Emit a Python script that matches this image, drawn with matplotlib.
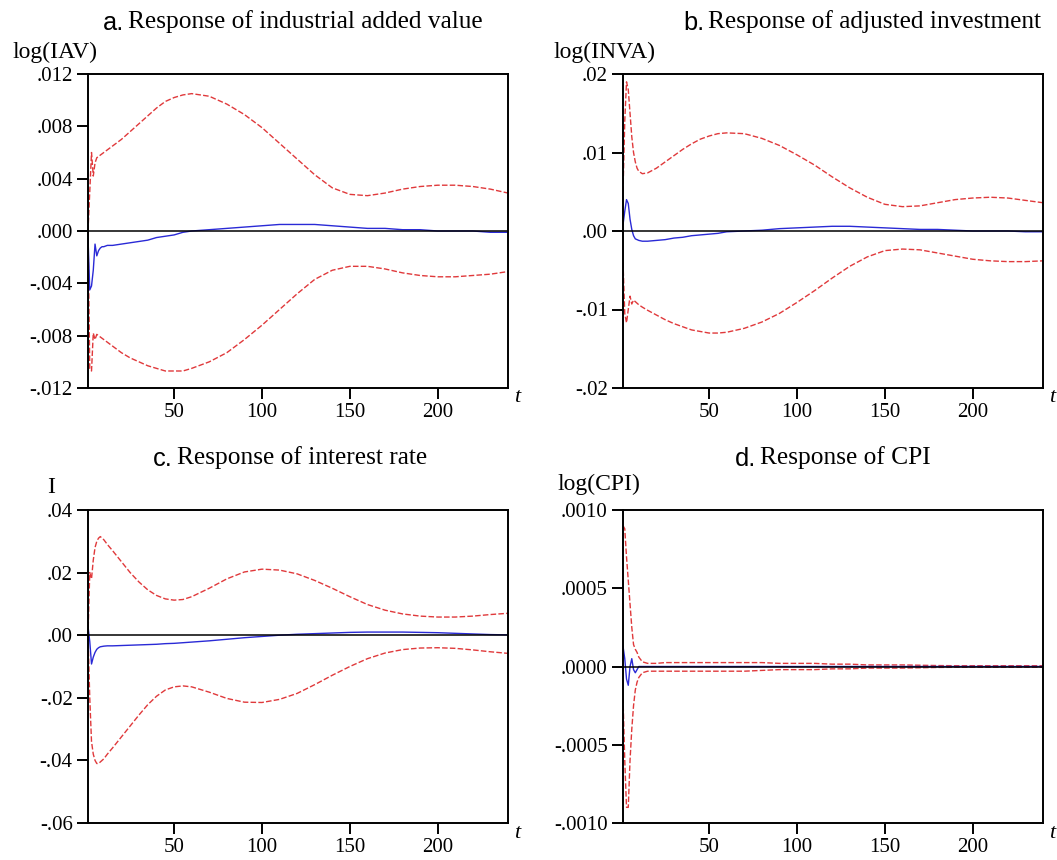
import numpy as np
import matplotlib.pyplot as plt

plt.rcParams['font.family'] = ['Liberation Serif', 'DejaVu Serif']

t = [1, 2, 3, 4, 5, 6, 7, 8, 9, 10, 12, 15, 20, 25, 30, 35, 40, 45, 50, 55, 60,
     70, 80, 90, 100, 110, 120, 130, 140, 150, 160, 170, 180, 190, 200, 210, 220, 230, 240]

# a. industrial added value
iav_up = [0.0, 0.0030, 0.0060, 0.0042, 0.0052, 0.0056, 0.0057, 0.0058, 0.0059, 0.0060, 0.0062,
          0.0065, 0.0070, 0.0076, 0.0082, 0.0088, 0.0094, 0.0099, 0.0102, 0.0104, 0.0105,
          0.0103, 0.0097, 0.0089, 0.0079, 0.0067, 0.0055, 0.0043, 0.0033, 0.0028, 0.0027,
          0.0029, 0.0032, 0.0034, 0.0035, 0.0035, 0.0034, 0.0032, 0.0029]
iav = [-0.0005, -0.0045, -0.0042, -0.0030, -0.0010, -0.0019, -0.0015, -0.0013, -0.0012, -0.0012,
       -0.0011, -0.0011, -0.0010, -0.0009, -0.0008, -0.0007, -0.0005, -0.0004, -0.0003, -0.0001,
       0.0000, 0.0001, 0.0002, 0.0003, 0.0004, 0.0005, 0.0005, 0.0005, 0.0004, 0.0003, 0.0002,
       0.0002, 0.0001, 0.0001, 0.0000, 0.0000, 0.0000, -0.0001, -0.0001]
iav_lo = [0.0, -0.0105, -0.0107, -0.0078, -0.0083, -0.0079, -0.0080, -0.0081, -0.0082, -0.0083,
          -0.0085, -0.0088, -0.0093, -0.0097, -0.0100, -0.0103, -0.0105, -0.0107, -0.0107,
          -0.0107, -0.0105, -0.0100, -0.0093, -0.0083, -0.0072, -0.0060, -0.0048, -0.0037,
          -0.0030, -0.0027, -0.0027, -0.0029, -0.0032, -0.0034, -0.0035, -0.0035, -0.0034,
          -0.0033, -0.0031]

# b. adjusted investment
inva_up = [0.005, 0.014, 0.019, 0.018, 0.015, 0.012, 0.0100, 0.0088, 0.0080, 0.0076, 0.0073,
           0.0074, 0.0080, 0.0088, 0.0096, 0.0104, 0.0111, 0.0117, 0.0121, 0.0124, 0.0125,
           0.0124, 0.0118, 0.0109, 0.0097, 0.0084, 0.0069, 0.0055, 0.0043, 0.0034, 0.0031,
           0.0032, 0.0036, 0.0040, 0.0042, 0.0043, 0.0042, 0.0039, 0.0036]
inva = [0.0008, 0.0025, 0.0040, 0.0035, 0.0015, 0.0002, -0.0006, -0.0010, -0.0011, -0.0012,
        -0.0013, -0.0013, -0.0012, -0.0011, -0.0009, -0.0008, -0.0006, -0.0005, -0.0004, -0.0003,
        -0.0001, 0.0000, 0.0001, 0.0003, 0.0004, 0.0005, 0.0006, 0.0006, 0.0005, 0.0004, 0.0003,
        0.0002, 0.0002, 0.0001, 0.0000, 0.0000, 0.0000, -0.0001, -0.0001]
inva_lo = [-0.004, -0.0105, -0.0117, -0.0100, -0.0083, -0.0093, -0.0088, -0.0090, -0.0092,
           -0.0094, -0.0097, -0.0101, -0.0107, -0.0113, -0.0118, -0.0122, -0.0126, -0.0128,
           -0.0130, -0.0130, -0.0129, -0.0124, -0.0116, -0.0105, -0.0091, -0.0076, -0.0060,
           -0.0045, -0.0033, -0.0025, -0.0023, -0.0024, -0.0028, -0.0032, -0.0036, -0.0038,
           -0.0039, -0.0039, -0.0038]

# c. interest rate
i_up = [0.0, 0.020, 0.018, 0.024, 0.028, 0.030, 0.031, 0.0315, 0.031, 0.0305, 0.029, 0.027,
        0.0235, 0.020, 0.017, 0.0145, 0.0127, 0.0116, 0.0112, 0.0114, 0.0123, 0.0150, 0.0180,
        0.0202, 0.0211, 0.0208, 0.0196, 0.0175, 0.0150, 0.0123, 0.0098, 0.0080, 0.0068,
        0.0061, 0.0058, 0.0058, 0.0061, 0.0066, 0.0070]
i_mid = [0.0028, -0.0020, -0.0092, -0.0070, -0.0055, -0.0045, -0.0040, -0.0037, -0.0036,
         -0.0035, -0.0034, -0.0034, -0.0033, -0.0032, -0.0031, -0.0030, -0.0029, -0.0027,
         -0.0026, -0.0024, -0.0022, -0.0018, -0.0013, -0.0008, -0.0004, 0.0000, 0.0003,
         0.0005, 0.0007, 0.0009, 0.0010, 0.0010, 0.0010, 0.0009, 0.0008, 0.0006, 0.0004,
         0.0002, 0.0001]
i_lo = [0.0, -0.020, -0.034, -0.038, -0.040, -0.041, -0.0410, -0.0405, -0.040, -0.0395, -0.038,
        -0.036, -0.0325, -0.029, -0.0255, -0.0222, -0.0195, -0.0175, -0.0165, -0.0162, -0.0165,
        -0.0182, -0.0202, -0.0214, -0.0215, -0.0205, -0.0186, -0.0158, -0.0128, -0.0100,
        -0.0075, -0.0057, -0.0046, -0.0041, -0.0040, -0.0042, -0.0047, -0.0053, -0.0058]

# d. CPI
cpi_up = [0.00090, 0.00088, 0.00070, 0.00055, 0.00040, 0.00025, 0.00014, 0.00011, 0.00009,
          0.00006, 0.00003, 0.00002, 0.00002, 0.000025, 0.000025, 0.000025, 0.000025,
          0.000025, 0.000025, 0.000025, 0.000025, 0.000025, 0.000025, 0.00002, 0.00002,
          0.00002, 0.000015, 0.000015, 0.00001, 0.00001, 0.00001, 0.000008, 0.000006,
          0.000005, 0.000005, 0.000005, 0.000005, 0.000005, 0.000005]
cpi = [0.00013, 0.00005, -0.00008, -0.00012, 0.0, 0.00005, -0.00002, -0.00004, -0.00002,
       0.0, 0.0, 0.0, 0.0, 0.0, 0.0, 0.0, 0.0, 0.0, 0.0, 0.0, 0.0, 0.0, 0.0, 0.0, 0.0, 0.0,
       0.0, 0.0, 0.0, 0.0, 0.0, 0.0, 0.0, 0.0, 0.0, 0.0, 0.0, 0.0, 0.0]
cpi_lo = [-0.00020, -0.00060, -0.00090, -0.00090, -0.00060, -0.00040, -0.00025, -0.00015,
          -0.00010, -0.00007, -0.00004, -0.00003, -0.00003, -0.00003, -0.00003, -0.00003,
          -0.00003, -0.00003, -0.00003, -0.00003, -0.00003, -0.00003, -0.000025, -0.00002,
          -0.00002, -0.00002, -0.000015, -0.000015, -0.00001, -0.00001, -0.00001, -0.000008,
          -0.000006, -0.000005, -0.000005, -0.000005, -0.000005, -0.000005, -0.000005]

letters = ['a.', 'b.', 'c.', 'd.']
titles = ['Response of industrial added value', 'Response of adjusted investment',
          'Response of interest rate', 'Response of CPI']
ylabels = ['log(IAV)', 'log(INVA)', 'I', 'log(CPI)']
yticks = [[0.012, 0.008, 0.004, 0.0, -0.004, -0.008, -0.012],
          [0.02, 0.01, 0.0, -0.01, -0.02],
          [0.04, 0.02, 0.0, -0.02, -0.04, -0.06],
          [0.001, 0.0005, 0.0, -0.0005, -0.001]]
yticklabels = [['.012', '.008', '.004', '.000', '-.004', '-.008', '-.012'],
               ['.02', '.01', '.00', '-.01', '-.02'],
               ['.04', '.02', '.00', '-.02', '-.04', '-.06'],
               ['.0010', '.0005', '.0000', '-.0005', '-.0010']]
xticks = [50, 100, 150, 200]
series = [(iav_up, iav, iav_lo), (inva_up, inva, inva_lo),
          (i_up, i_mid, i_lo), (cpi_up, cpi, cpi_lo)]

W, H = 1057, 860
fig = plt.figure(figsize=(W / 100, H / 100), dpi=100)

# axes boxes in pixels: left, top, right, bottom
boxes = [(88, 74, 508, 388), (623, 74, 1043, 388), (88, 510, 508, 823), (623, 510, 1043, 823)]
title_pos = [(128, 22), (708, 22), (177, 458), (760, 458)]
ylab_pos = [(12, 52), (553, 52), (47, 487), (557, 484)]

red = '#e0393b'
blue = '#2a2ad6'

for k in range(4):
    l, tp, r, b = boxes[k]
    ax = fig.add_axes([l / W, 1 - b / H, (r - l) / W, (b - tp) / H])
    up, mid, lo = series[k]
    ax.plot(t, up, color=red, lw=1.0, dashes=(4, 1.6))
    ax.plot(t, lo, color=red, lw=1.0, dashes=(4, 1.6))
    ax.plot(t, mid, color=blue, lw=1.0)
    ax.axhline(0, color='black', lw=1.1, zorder=3)
    ax.set_xlim(1, 240)
    ax.set_ylim(yticks[k][-1], yticks[k][0])
    ax.set_yticks(yticks[k])
    ax.set_yticklabels(yticklabels[k])
    ax.set_xticks(xticks)
    ax.set_xticklabels([str(x) for x in xticks])
    ax.tick_params(direction='out', length=8, width=1.4, labelsize=15, pad=3,
                   colors='black')
    for s in ax.spines.values():
        s.set_linewidth(1.4)
    tx, ty = title_pos[k]
    fig.text(tx / W, 1 - ty / H, titles[k], fontsize=18.3, ha='left', va='center')
    fig.text((tx - 4) / W, 1 - (ty + 1) / H, letters[k], fontsize=18.3,
             family='Liberation Sans', ha='right', va='center')
    fig.text(ylab_pos[k][0] / W, 1 - ylab_pos[k][1] / H, ylabels[k], fontsize=17,
             ha='left', va='center')
    fig.text((r + 9) / W, 1 - (b + 10) / H, 't', fontsize=16, style='italic',
             ha='center', va='center')

fig.savefig('out.png', dpi=100)
